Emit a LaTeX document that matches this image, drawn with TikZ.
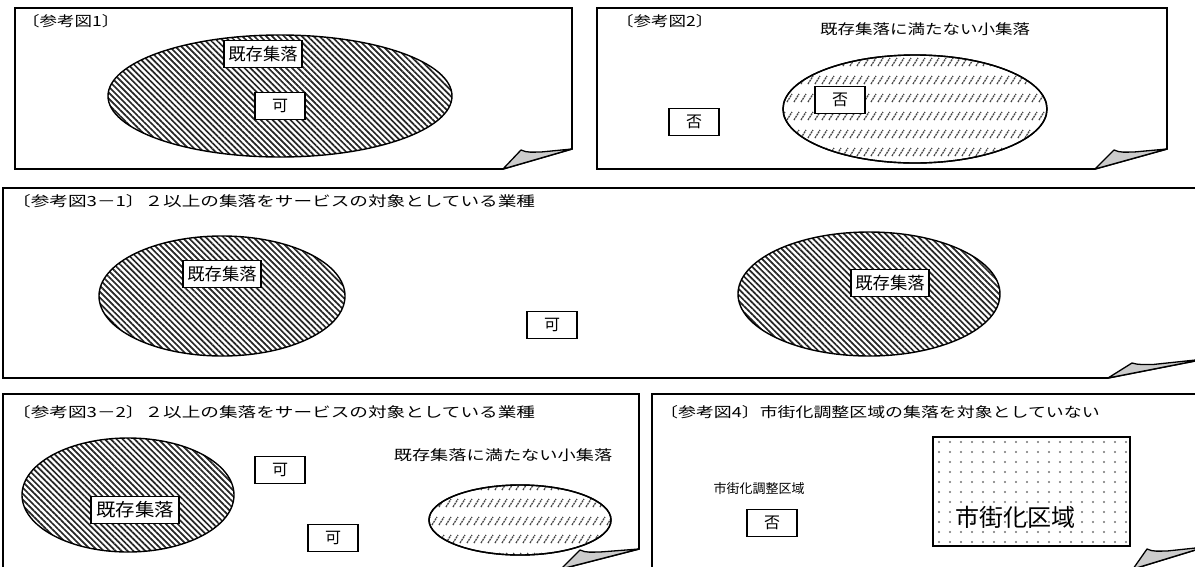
\documentclass[tikz,border=0pt]{standalone}
\usepackage{fontspec}
\usepackage{graphicx}
\setmainfont{Noto Sans CJK JP}
\usetikzlibrary{patterns.meta,shapes.geometric}
\newcommand{\hs}[2]{\scalebox{#1}[1]{#2}}
\begin{document}
\begin{tikzpicture}[x=1pt,y=-1pt,
  panel/.style={draw=black,line width=1.6pt,fill=white,line join=miter},
  curl/.style={draw=black,line width=1.3pt,fill=gray!40,line join=round},
  settle/.style={ellipse,draw=black,line width=1.4pt,inner sep=0pt,
     pattern={Lines[angle=-45,distance=4.2pt,line width=1.7pt]},pattern color=black!85},
  small/.style={ellipse,draw=black,line width=1.4pt,inner sep=0pt},
  lbl/.style={draw=black,line width=1.5pt,fill=white,inner sep=0pt,
     font=\fontsize{17}{17}\selectfont,minimum height=27pt,minimum width=78pt},
  ok/.style={draw=black,line width=1.5pt,fill=white,inner sep=0pt,
     font=\fontsize{16}{16}\selectfont,minimum width=50pt,minimum height=27pt},
  ttl/.style={anchor=west,inner sep=0pt,font=\fontsize{14}{14}\selectfont},
  sub/.style={inner sep=0pt,font=\fontsize{14}{14}\selectfont},
  stroke/.style={draw=black!72,line width=1.3pt,dash pattern=on 2pt off 0.8pt},
  dotc/.style={fill=black!55}
]
\useasboundingbox (0,0) rectangle (1195,566);

% ---------- panel 1 ----------
\coordinate (p1s) at (503,169); \coordinate (p1p) at (521,150); \coordinate (p1e) at (572,149);
\path[panel] (15,8) -- (572,8) -- (p1e) -- (p1s) -- (15,169) -- cycle;
\path[curl] (p1s) -- (p1p) .. controls (527,153) and (533,152) .. (541,152) -- (p1e) -- cycle;
\node[ttl] (t1) at (22,21) {\hs{1.25}{〔参考図1〕}};
\node[settle,minimum width=344pt,minimum height=122pt] (e1) at (280,96) {};
\node[lbl] (k1) at (263,54) {\hs{1.02}{既存集落}};
\node[ok] (a1) at (280,106) {可};

% ---------- panel 2 ----------
\coordinate (p2s) at (1095,169); \coordinate (p2p) at (1114,150); \coordinate (p2e) at (1167,149);
\path[panel] (597,8) -- (1167,8) -- (p2e) -- (p2s) -- (597,169) -- cycle;
\path[curl] (p2s) -- (p2p) .. controls (1120,153) and (1126,152) .. (1134,152) -- (p2e) -- cycle;
\node[ttl] (t2) at (616,21) {\hs{1.25}{〔参考図2〕}};
\node[sub] (s2) at (925,29) {\hs{1.25}{既存集落に満たない小集落}};
\node[small,minimum width=264pt,minimum height=108pt] (e2) at (915,109) {};
\begin{scope}
  \clip (915,109) ellipse [x radius=132pt,y radius=54pt];
  \foreach \yy in {62,80,98,116,134,152} {
    \foreach \xx in {780,787,...,1050} {
      \draw[stroke] (\xx,\yy+4) -- (\xx+5,\yy-4);
    }
  }
\end{scope}
\node[small,minimum width=264pt,minimum height=108pt] at (915,109) {};
\node[ok] (n2a) at (840,100) {否};
\node[ok] (n2b) at (694,122) {否};

% ---------- panel 3 ----------
\coordinate (p3s) at (1108,378); \coordinate (p3p) at (1132,363); \coordinate (p3e) at (1205,359);
\path[panel] (3,188) -- (1205,188) -- (p3e) -- (p3s) -- (3,378) -- cycle;
\path[curl] (p3s) -- (p3p) .. controls (1138,365) and (1145,364.5) .. (1153,364.5) -- (p3e) -- cycle;
\node[ttl] (t3) at (12,201) {\hs{1.33}{〔参考図3－1〕２以上の集落をサービスの対象としている業種}};
\node[settle,minimum width=246pt,minimum height=120pt] (e3a) at (222,296) {};
\node[lbl] (k3a) at (222,274) {\hs{1.02}{既存集落}};
\node[ok] (a3) at (552,325) {可};
\node[settle,minimum width=262pt,minimum height=124pt] (e3b) at (869,294) {};
\node[lbl] (k3b) at (890,283) {\hs{1.02}{既存集落}};

% ---------- panel 4 ----------
\coordinate (p4s) at (561,569); \coordinate (p4p) at (580,550); \coordinate (p4e) at (639,549);
\path[panel] (3,394) -- (639,394) -- (p4e) -- (p4s) -- (3,569) -- cycle;
\path[curl] (p4s) -- (p4p) .. controls (586,553) and (592,552) .. (600,552) -- (p4e) -- cycle;
\node[ttl] (t4) at (12,412) {\hs{1.33}{〔参考図3－2〕２以上の集落をサービスの対象としている業種}};
\node[settle,minimum width=212pt,minimum height=114pt] (e4a) at (128,495) {};
\node[lbl,minimum width=88pt,font=\fontsize{18}{18}\selectfont] (k4a) at (135,510) {\hs{1.08}{既存集落}};
\node[ok] (a4a) at (280,470) {可};
\node[ok] (a4b) at (333,538) {可};
\node[sub] (s4) at (503,455) {\hs{1.3}{既存集落に満たない小集落}};
\node[small,minimum width=182pt,minimum height=70pt] (e4b) at (520,520) {};
\begin{scope}
  \clip (520,520) ellipse [x radius=91pt,y radius=35pt];
  \foreach \yy in {486,503,521,539,557} {
    \foreach \xx in {425,432,...,615} {
      \draw[stroke] (\xx,\yy+4) -- (\xx+5,\yy-4);
    }
  }
\end{scope}
\node[small,minimum width=182pt,minimum height=70pt] at (520,520) {};

% ---------- panel 5 ----------
\coordinate (p5s) at (1133,569); \coordinate (p5p) at (1147,549); \coordinate (p5e) at (1205,547);
\path[panel] (652,394) -- (1205,394) -- (p5e) -- (p5s) -- (652,569) -- cycle;
\path[curl] (p5s) -- (p5p) .. controls (1153,552) and (1159,551) .. (1167,551) -- (p5e) -- cycle;
\node[ttl] (t5) at (660,412) {\hs{1.28}{〔参考図4〕市街化調整区域の集落を対象としていない}};
\node[sub,font=\fontsize{13}{13}\selectfont] (s5) at (759,489) {市街化調整区域};
\node[ok] (n5) at (772,523) {否};
\node[draw=black,line width=1.6pt,fill=white,inner sep=0pt,minimum width=197pt,minimum height=109pt] (r5) at (1031.5,491.5) {};
\begin{scope}
  \clip (933,437) rectangle (1130,546);
  \foreach \yy in {442,452,...,545} {
    \foreach \xx in {939,950,...,1128} {
      \fill[dotc] (\xx,\yy) circle (1.2pt);
    }
  }
\end{scope}
\node[draw=black,line width=1.6pt,inner sep=0pt,minimum width=197pt,minimum height=109pt] at (1031.5,491.5) {};
\node[inner sep=0pt,font=\fontsize{24}{24}\selectfont] (m5) at (1015,517) {市街化区域};
\end{tikzpicture}
\end{document}
